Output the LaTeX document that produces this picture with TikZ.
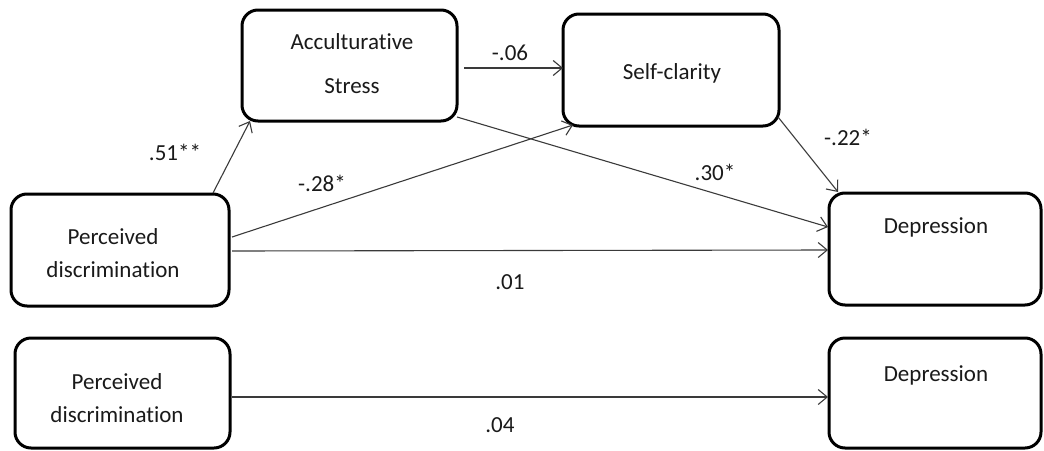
\documentclass[tikz,border=0pt]{standalone}
\usepackage{fontspec}
\setmainfont{Carlito}[Ligatures={NoCommon,NoRare,NoDiscretionary}]
\usetikzlibrary{arrows.meta,calc}
\definecolor{linegray}{HTML}{3A3A3A}
\definecolor{inkblack}{HTML}{1A1A1A}
\begin{document}
\begin{tikzpicture}[x=0.5pt,y=-0.5pt,
  box/.style={draw=black,line width=1.5pt,rounded corners=8pt,fill=white,
    inner sep=0pt,outer sep=0pt},
  txt/.style={text=inkblack,font=\fontsize{11.5}{16.5}\selectfont,align=center,inner sep=0pt},
  coef/.style={text=inkblack,font=\fontsize{11.5}{14}\selectfont,inner sep=0pt},
  path/.style={draw=linegray,line width=0.55pt,-{Straight Barb[length=4.5pt,width=7.5pt]}}]
\useasboundingbox (0,0) rectangle (1044,450);

% boxes
\node[box,minimum width=109pt,minimum height=56pt] (pd1) at (120,250) {};
\node[box,minimum width=107.5pt,minimum height=55.5pt] (as) at (349.5,65.5) {};
\node[box,minimum width=108pt,minimum height=56pt] (sc) at (671,70) {};
\node[box,minimum width=106pt,minimum height=56pt] (dep1) at (935,249) {};
\node[box,minimum width=107.5pt,minimum height=55pt] (pd2) at (122.5,393) {};
\node[box,minimum width=106pt,minimum height=55pt] (dep2) at (935,393) {};

% box texts
\node[txt] (pd1t) at (113,253.5) {Perceived\\discrimination};
\node[txt,font=\fontsize{11.5}{22}\selectfont] (ast) at (352,64) {Acculturative\\Stress};
\node[txt] (sct) at (672,73) {Self-clarity};
\node[txt] (dep1t) at (936,227) {Depression};
\node[txt] (pd2t) at (117,398) {Perceived\\discrimination};
\node[txt] (dep2t) at (936,375) {Depression};

% paths
\draw[path] ($(pd1.north)+(93,-1)$) -- ($(as.south)+(-99.5,0)$);
\draw[path] ($(as.east)+(7,2.5)$) -- ($(sc.west)+(0,-2)$);
\draw[path] ($(pd1.east)+(3,-13)$) -- ($(sc.south west)+(10,-1)$);
\draw[path] ($(as.south east)+(0,-4)$) -- ($(dep1.west)+(-1,-22)$);
\draw[path] ($(sc.south east)+(-1,-9)$) -- ($(dep1.north west)+(9,-1)$);
\draw[path] ($(pd1.east)+(3,1)$) -- ($(dep1.west)+(-1,1)$);
\draw[path] ($(pd2.east)+(2,4)$) -- ($(dep2.west)+(-1,4)$);

% coefficients
\node[coef] (c1) at (175,152) {.51**};
\node[coef] (c2) at (510,53) {-.06};
\node[coef] (c3) at (322,183) {-.28*};
\node[coef] (c4) at (715,172) {.30*};
\node[coef] (c5) at (848,137) {-.22*};
\node[coef] (c6) at (510,282) {.01};
\node[coef] (c7) at (500,425) {.04};
\end{tikzpicture}
\end{document}
